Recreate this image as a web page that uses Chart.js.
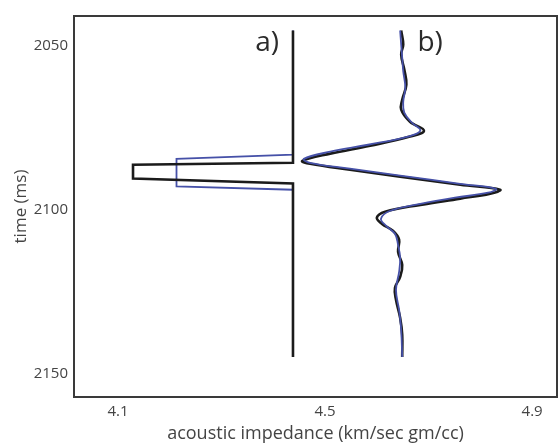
<!DOCTYPE html>
<html>
<head>
<meta charset="utf-8">
<script src="https://cdn.jsdelivr.net/npm/chart.js@4.4.1/dist/chart.umd.min.js"></script>
<style>
  html, body { margin: 0; padding: 0; background: #fff; }
  #wrap { width: 558px; height: 447px; }
</style>
</head>
<body>
<div id="wrap"><canvas id="impChart"></canvas></div>
<script>
// a) impedance log: true (black) and inverted (blue)
const logTrueImp  = [4.438, 4.438, 4.129, 4.129, 4.438, 4.438];
const logTrueTime = [2045.4, 2085.7, 2086.3, 2090.5, 2092.0, 2144.8];
const logInvImp   = [4.438, 4.438, 4.213, 4.213, 4.438, 4.438];
const logInvTime  = [2045.4, 2083.2, 2084.5, 2092.9, 2093.9, 2144.8];

// b) synthetic traces: true (black) and inverted (blue)
const synTrueImp  = [4.647, 4.651, 4.647, 4.653, 4.657, 4.649, 4.647, 4.664, 4.691, 4.664,
                     4.587, 4.510, 4.456, 4.471, 4.548, 4.645, 4.761, 4.838, 4.819, 4.761,
                     4.684, 4.616, 4.600, 4.610, 4.631, 4.643, 4.641, 4.649, 4.645, 4.635,
                     4.637, 4.645, 4.649, 4.649];
const synTrueTime = [2045.4, 2049.7, 2052.7, 2057.3, 2061.9, 2066.5, 2069.5, 2073.2, 2075.9, 2077.7,
                     2080.5, 2082.9, 2085.1, 2086.0, 2087.8, 2089.9, 2092.4, 2093.9, 2095.1, 2096.6,
                     2098.5, 2100.6, 2102.4, 2104.3, 2106.4, 2109.1, 2112.8, 2116.8, 2120.4, 2123.8,
                     2127.4, 2132.9, 2138.1, 2144.8];
const synInvImp   = [4.645, 4.647, 4.649, 4.651, 4.655, 4.651, 4.653, 4.668, 4.684, 4.660,
                     4.583, 4.510, 4.459, 4.471, 4.548, 4.645, 4.761, 4.830, 4.815, 4.751,
                     4.684, 4.626, 4.608, 4.618, 4.635, 4.641, 4.645, 4.643, 4.637, 4.643,
                     4.647, 4.649];
const synInvTime  = [2045.4, 2049.7, 2053.7, 2057.9, 2062.8, 2067.1, 2070.4, 2073.5, 2075.9, 2077.7,
                     2080.2, 2082.3, 2084.5, 2085.7, 2087.5, 2089.6, 2092.1, 2093.6, 2094.8, 2096.3,
                     2098.2, 2100.3, 2102.7, 2104.9, 2107.3, 2110.7, 2114.6, 2118.9, 2124.4, 2130.5,
                     2136.6, 2144.8];

const impTicks  = [4.1, 4.5, 4.9];
const timeTicks = [2050, 2100, 2150];

const BLACK = "#1b1b1b";
const BLUE  = "#4651a8";
const FONT  = "'Open Sans', sans-serif";

function pts(xs, ys) {
  return xs.map((x, i) => ({ x: x, y: ys[i] }));
}

// box around the plot + panel letters
const framePlugin = {
  id: "frame",
  afterDraw(chart) {
    const { ctx, chartArea: a, scales } = chart;
    ctx.save();
    ctx.strokeStyle = "#3a3a3a";
    ctx.lineWidth = 2;
    ctx.strokeRect(a.left, a.top, a.right - a.left, a.bottom - a.top);

    ctx.fillStyle = "#2b2b2b";
    ctx.font = "28px " + FONT;
    ctx.textAlign = "center";
    ctx.textBaseline = "middle";
    const ty = scales.y.getPixelForValue(2049.3);
    ctx.fillText("a)", scales.x.getPixelForValue(4.388), ty);
    ctx.fillText("b)", scales.x.getPixelForValue(4.703), ty);
    ctx.restore();
  }
};

function line(data, color, width, order) {
  return {
    data: data,
    showLine: true,
    borderColor: color,
    borderWidth: width,
    pointRadius: 0,
    fill: false,
    order: order
  };
}

new Chart(document.getElementById("impChart"), {
  type: "scatter",
  data: {
    datasets: [
      line(pts(logTrueImp, logTrueTime), BLACK, 2.6, 0),
      line(pts(logInvImp, logInvTime), BLUE, 1.8, 1),
      Object.assign(line(pts(synInvImp, synInvTime), BLUE, 1.8, 2), { tension: 0.4 }),
      Object.assign(line(pts(synTrueImp, synTrueTime), BLACK, 2.6, 3), { tension: 0.4 })
    ]
  },
  options: {
    responsive: true,
    maintainAspectRatio: false,
    animation: false,
    layout: { padding: { left: 0, top: 16, right: 1, bottom: 0 } },
    plugins: {
      legend: { display: false },
      tooltip: { enabled: false }
    },
    scales: {
      x: {
        type: "linear",
        min: 4.015,
        max: 4.948,
        afterBuildTicks: s => { s.ticks = impTicks.map(v => ({ value: v })); },
        afterFit: s => { s.height = 50; },
        grid: { display: false, drawTicks: false },
        border: { display: false },
        ticks: {
          padding: 6, color: "#444", font: { family: FONT, size: 15 },
          callback: v => v.toFixed(1)
        },
        title: {
          display: true,
          text: "acoustic impedance (km/sec gm/cc)",
          color: "#444",
          font: { family: FONT, size: 18 },
          padding: { top: 0, bottom: 2 }
        }
      },
      y: {
        type: "linear",
        reverse: true,
        min: 2041,
        max: 2157,
        afterBuildTicks: s => { s.ticks = timeTicks.map(v => ({ value: v })); },
        afterFit: s => { s.width = 74; },
        grid: { display: false, drawTicks: false },
        border: { display: false },
        ticks: {
          padding: 6, color: "#444", font: { family: FONT, size: 15 },
          callback: v => String(v)
        },
        title: {
          display: true,
          text: "time (ms)",
          color: "#444",
          font: { family: FONT, size: 17 },
          padding: { top: 11, bottom: 0 }
        }
      }
    }
  },
  plugins: [framePlugin]
});
</script>
</body>
</html>
